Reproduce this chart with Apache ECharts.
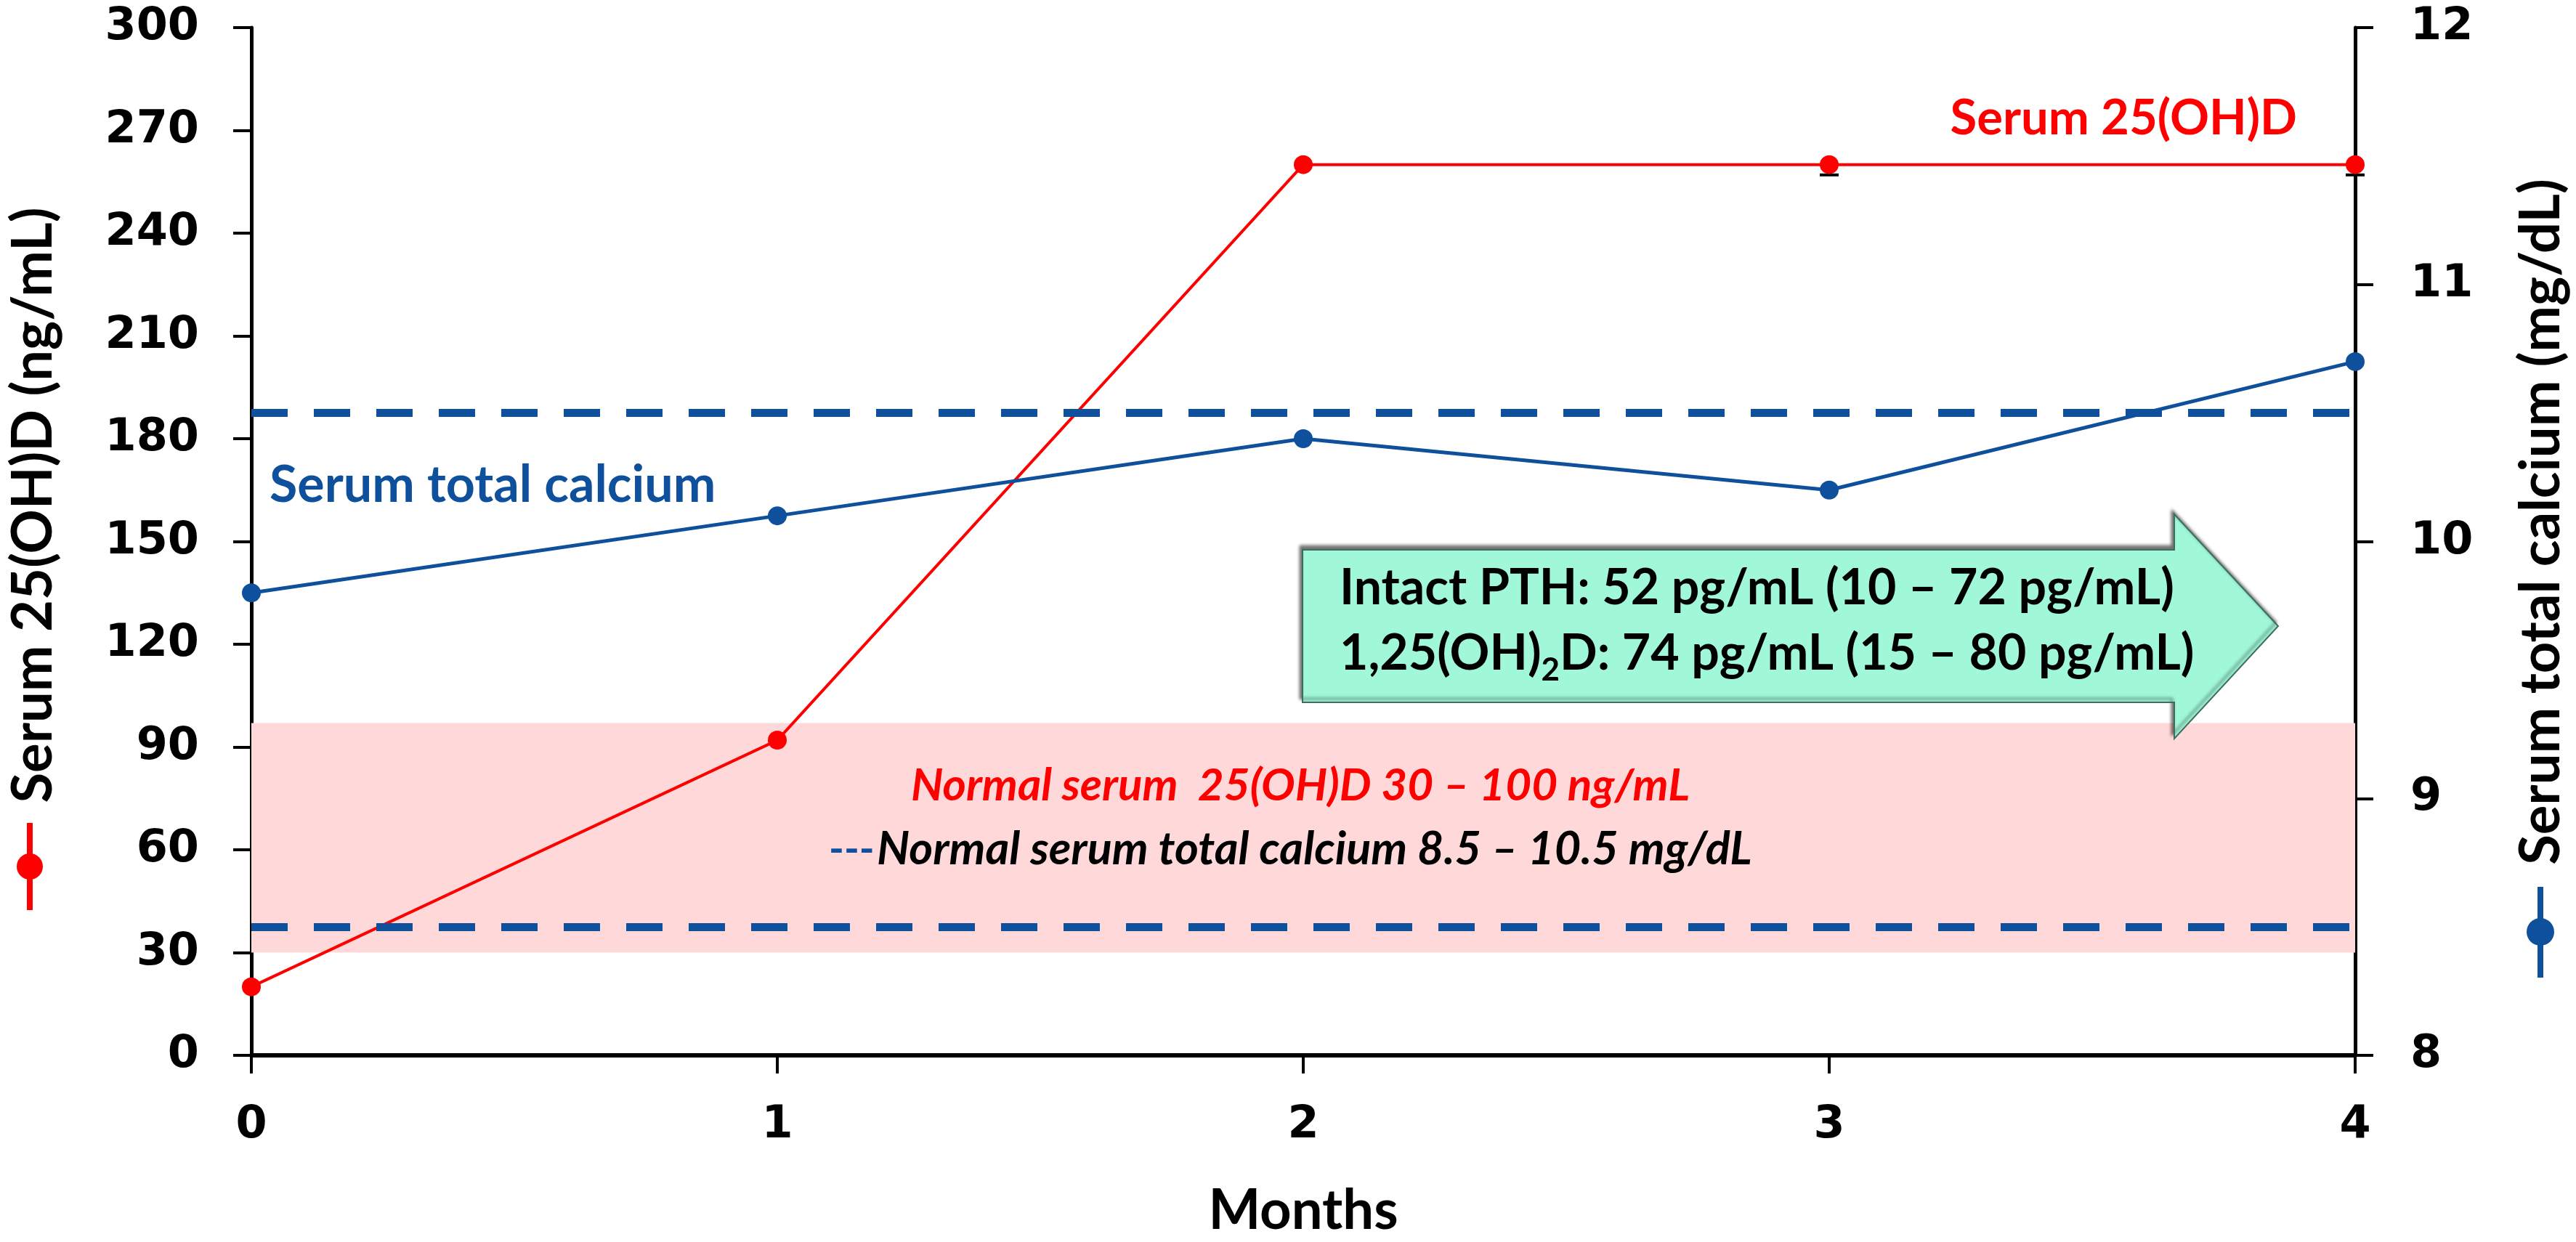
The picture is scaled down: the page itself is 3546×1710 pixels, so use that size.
<!DOCTYPE html>
<html>
<head>
<meta charset="utf-8">
<script src="https://cdn.jsdelivr.net/npm/echarts@6/dist/echarts.min.js"></script>
<style>
  html, body { margin: 0; padding: 0; background: #fff; }
  #main { width: 3546px; height: 1710px; }
</style>
</head>
<body>
<div id="main"></div>
<script>
// values
var months = [0, 1, 2, 3, 4];
var vitD = [20, 92, 260, 260, 260];          // serum 25(OH)D, ng/mL
var vitDLow = [null, null, null, 257, 257];  // lower error bar
var calcium = [9.8, 10.1, 10.4, 10.2, 10.7]; // serum total calcium, mg/dL
var vitDNormal = [30, 97];
var calciumNormal = [8.5, 10.5];

var RED = '#ff0000';
var BLUE = '#0e509b';
var nameFont = 'Lato';
var tickFont = 'DejaVu Sans';

function pairs(xs, ys) {
    var out = [];
    for (var i = 0; i < xs.length; i++) {
        out.push([xs[i], ys[i]]);
    }
    return out;
}

var errData = [];
for (var i = 0; i < months.length; i++) {
    if (vitDLow[i] != null) {
        errData.push([months[i], vitD[i], vitDLow[i]]);
    }
}

var myChart = echarts.init(document.getElementById('main'));

var tickLabel = { color: '#000', fontFamily: tickFont, fontWeight: 'bold', fontSize: 62 };
var axisLine = { show: true, lineStyle: { color: '#000', width: 5 } };
var axisTick = { show: true, length: 25, lineStyle: { color: '#000', width: 4 } };

var option = {
    backgroundColor: '#fff',
    animation: false,
    grid: { left: 339, right: 304, top: 38, bottom: 254 },
    xAxis: {
        type: 'value',
        min: 0, max: 4, interval: 1,
        name: 'Months',
        nameLocation: 'middle',
        nameGap: 176,
        nameTextStyle: { color: '#000', fontFamily: nameFont, fontWeight: 'bold', fontSize: 76 },
        axisLine: { show: true, lineStyle: { color: '#000', width: 6 } },
        axisTick: axisTick,
        axisLabel: Object.assign({ margin: 66 }, tickLabel),
        splitLine: { show: false }
    },
    yAxis: [{
        type: 'value',
        min: 0, max: 300, interval: 30,
        name: 'Serum 25(OH)D (ng/mL)',
        nameLocation: 'middle',
        nameRotate: 90,
        nameGap: 262,
        nameTextStyle: { color: '#000', fontFamily: nameFont, fontWeight: 'bold', fontSize: 76, padding: [0, 0, 0, 100] },
        axisLine: axisLine,
        axisTick: axisTick,
        axisLabel: Object.assign({ margin: 72 }, tickLabel),
        splitLine: { show: false }
    }, {
        type: 'value',
        position: 'right',
        min: 8, max: 12, interval: 1,
        name: 'Serum total calcium (mg/dL)',
        nameLocation: 'middle',
        nameRotate: 90,
        nameGap: 218,
        nameTextStyle: { color: '#000', fontFamily: nameFont, fontWeight: 'bold', fontSize: 76, padding: [0, 0, 0, 54] },
        axisLine: axisLine,
        axisTick: axisTick,
        axisLabel: Object.assign({ margin: 76 }, tickLabel),
        splitLine: { show: false }
    }],
    series: [{
        name: 'Serum 25(OH)D',
        type: 'line',
        yAxisIndex: 0,
        data: pairs(months, vitD),
        symbol: 'circle',
        symbolSize: 26,
        z: 3,
        itemStyle: { color: RED },
        lineStyle: { color: RED, width: 4 },
        markArea: {
            silent: true,
            itemStyle: { color: '#ffd9d9' },
            data: [[{ yAxis: vitDNormal[0] }, { yAxis: vitDNormal[1] }]]
        }
    }, {
        name: 'error',
        type: 'custom',
        yAxisIndex: 0,
        data: errData,
        z: 2,
        renderItem: function (params, api) {
            var top = api.coord([api.value(0), api.value(1)]);
            var low = api.coord([api.value(0), api.value(2)]);
            return {
                type: 'group',
                children: [{
                    type: 'line',
                    shape: { x1: top[0], y1: top[1], x2: low[0], y2: low[1] },
                    style: { stroke: '#000', lineWidth: 3 }
                }, {
                    type: 'line',
                    shape: { x1: low[0] - 13, y1: low[1], x2: low[0] + 13, y2: low[1] },
                    style: { stroke: '#000', lineWidth: 4 }
                }]
            };
        }
    }, {
        name: 'Serum total calcium',
        type: 'line',
        yAxisIndex: 1,
        data: pairs(months, calcium),
        symbol: 'circle',
        symbolSize: 26,
        z: 3,
        itemStyle: { color: BLUE },
        lineStyle: { color: BLUE, width: 5 },
        markLine: {
            silent: true,
            symbol: ['none', 'none'],
            label: { show: false },
            lineStyle: { color: BLUE, width: 11, type: [50, 36] },
            data: [{ yAxis: calciumNormal[0] }, { yAxis: calciumNormal[1] }]
        }
    }],
    graphic: [
        // legend keys at the axis names
        { type: 'line', z: 10, shape: { x1: 41, y1: 1133, x2: 41, y2: 1253 }, style: { stroke: RED, lineWidth: 8 } },
        { type: 'circle', z: 10, shape: { cx: 41, cy: 1193, r: 18 }, style: { fill: RED } },
        { type: 'line', z: 10, shape: { x1: 3497, y1: 1221, x2: 3497, y2: 1346 }, style: { stroke: BLUE, lineWidth: 8 } },
        { type: 'circle', z: 10, shape: { cx: 3497, cy: 1283, r: 19 }, style: { fill: BLUE } },
        // series labels
        {
            type: 'text', z: 10, x: 3162, y: 163,
            style: { text: 'Serum 25(OH)D', fill: RED, fontFamily: nameFont, fontWeight: 'bold', fontSize: 67, align: 'right', verticalAlign: 'middle' }
        },
        {
            type: 'text', z: 10, x: 371, y: 668,
            style: { text: 'Serum total calcium', fill: BLUE, fontFamily: nameFont, fontWeight: 'bold', fontSize: 70, align: 'left', verticalAlign: 'middle' }
        },
        // normal range notes
        {
            type: 'text', z: 10, x: 1790, y: 1082,
            style: { text: 'Normal serum  25(OH)D 30 \u2013 100 ng/mL', fill: RED, fontFamily: nameFont, fontWeight: 'bold', fontStyle: 'italic', fontSize: 62, align: 'center', verticalAlign: 'middle' }
        },
        {
            type: 'text', z: 10, x: 1141, y: 1170,
            style: {
                text: '{d|---} {t|Normal serum total calcium 8.5 \u2013 10.5 mg/dL}',
                align: 'left', verticalAlign: 'middle',
                rich: {
                    d: { fill: BLUE, fontFamily: nameFont, fontWeight: 'bold', fontSize: 56 },
                    t: { fill: '#000', fontFamily: nameFont, fontWeight: 'bold', fontStyle: 'italic', fontSize: 63 }
                }
            }
        },
        // lab result arrow
        {
            type: 'polygon', z: 9,
            shape: { points: [[1793, 757], [2993, 757], [2993, 708], [3136, 862], [2993, 1017], [2993, 967], [1793, 967]] },
            style: { fill: '#a0f8d8', stroke: '#3d6d5e', lineWidth: 2, shadowBlur: 4, shadowColor: 'rgba(0,0,0,0.55)', shadowOffsetX: -3, shadowOffsetY: -5 }
        },
        {
            type: 'text', z: 10, x: 1844, y: 765,
            style: {
                text: '{a|Intact PTH: 52 pg/mL (10 \u2013 72 pg/mL)}\n{a|1,25(OH)}{s|2}{a|D: 74 pg/mL (15 \u2013 80 pg/mL)}',
                align: 'left', verticalAlign: 'top',
                rich: {
                    a: { fill: '#000', fontFamily: nameFont, fontWeight: 'bold', fontSize: 68, lineHeight: 90 },
                    s: { fill: '#000', fontFamily: nameFont, fontWeight: 'bold', fontSize: 44, lineHeight: 44, verticalAlign: 'bottom' }
                }
            }
        }
    ]
};

myChart.setOption(option);
</script>
</body>
</html>
